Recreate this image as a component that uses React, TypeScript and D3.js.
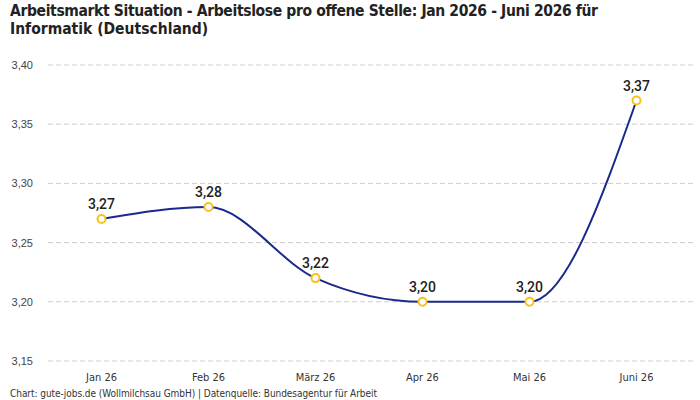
import React, { useEffect, useRef } from 'react';
import * as d3 from 'd3';

const months = ['Jan 26', 'Feb 26', 'März 26', 'Apr 26', 'Mai 26', 'Juni 26'];
const ratio = [3.27, 3.28, 3.22, 3.2, 3.2, 3.37];
const yTicks = [3.15, 3.2, 3.25, 3.3, 3.35, 3.4];

const titleLines = [
  'Arbeitsmarkt Situation - Arbeitslose pro offene Stelle: Jan 2026 - Juni 2026 für',
  'Informatik (Deutschland)',
];
const footer = 'Chart: gute-jobs.de (Wollmilchsau GmbH) | Datenquelle: Bundesagentur für Arbeit';

const W = 700;
const H = 400;
const narrow = '"Liberation Sans Narrow", "DejaVu Sans Condensed", sans-serif';
const sans = '"Liberation Sans", Arial, sans-serif';

const fmt = (v: number) => v.toFixed(2).replace('.', ',');

const App = () => {
  const svgRef = useRef<SVGSVGElement>(null);

  useEffect(() => {
    document.body.style.margin = '0';
    const svg = d3.select(svgRef.current);
    svg.selectAll('*').remove();

    const x = d3.scaleBand().domain(months).range([48, 690]);
    const y = d3.scaleLinear().domain([3.15, 3.4]).range([361, 65]);
    const cx = (m: string) => (x(m) ?? 0) + x.bandwidth() / 2;

    svg.append('rect').attr('width', W).attr('height', H).attr('fill', '#fff');

    // title
    svg.append('g')
      .selectAll('text')
      .data(titleLines)
      .join('text')
      .attr('x', 10)
      .attr('y', 16)
      .attr('dy', (_, i) => i * 18)
      .style('font-family', narrow)
      .style('font-weight', 'bold')
      .style('font-size', '15.5px')
      .attr('textLength', (_, i) => (i === 0 ? 588 : null))
      .attr('fill', '#222')
      .text(d => d);

    // grid + y labels
    const grid = svg.append('g');
    grid.selectAll('line')
      .data(yTicks)
      .join('line')
      .attr('x1', 48)
      .attr('x2', 695)
      .attr('y1', d => y(d))
      .attr('y2', d => y(d))
      .attr('stroke', '#ccc')
      .attr('stroke-dasharray', '5,3');
    grid.selectAll('text')
      .data(yTicks)
      .join('text')
      .attr('x', 33)
      .attr('y', d => y(d) + 4)
      .attr('text-anchor', 'end')
      .style('font-family', sans)
      .style('font-size', '11px')
      .attr('fill', '#444')
      .text(d => fmt(d));

    // x labels
    svg.append('g')
      .selectAll('text')
      .data(months)
      .join('text')
      .attr('x', d => cx(d))
      .attr('y', 381)
      .attr('text-anchor', 'middle')
      .style('font-family', narrow)
      .style('font-size', '11px')
      .attr('fill', '#333')
      .text(d => d);

    const pts = months.map((m, i) => ({ m, v: ratio[i] }));
    const line = d3.line<{ m: string; v: number }>()
      .x(d => cx(d.m))
      .y(d => y(d.v))
      .curve(d3.curveMonotoneX);

    svg.append('path')
      .datum(pts)
      .attr('d', line)
      .attr('fill', 'none')
      .attr('stroke', '#1a2a8c')
      .attr('stroke-width', 2);

    svg.append('g')
      .selectAll('circle')
      .data(pts)
      .join('circle')
      .attr('cx', d => cx(d.m))
      .attr('cy', d => y(d.v))
      .attr('r', 4)
      .attr('fill', '#fff')
      .attr('stroke', '#f7c21b')
      .attr('stroke-width', 2);

    svg.append('g')
      .selectAll('text')
      .data(pts)
      .join('text')
      .attr('x', d => cx(d.m))
      .attr('y', d => y(d.v) - 10)
      .attr('text-anchor', 'middle')
      .style('font-family', 'Roboto, sans-serif')
      .style('font-size', '14px')
      .style('font-weight', 500)
      .attr('fill', '#222')
      .text(d => fmt(d.v));

    svg.append('text')
      .attr('x', 10)
      .attr('y', 397)
      .style('font-family', narrow)
      .style('font-size', '10px')
      .attr('textLength', 367)
      .attr('fill', '#333')
      .text(footer);
  }, []);

  return <svg ref={svgRef} width={W} height={H} style={{ display: 'block' }} />;
};

export default App;
